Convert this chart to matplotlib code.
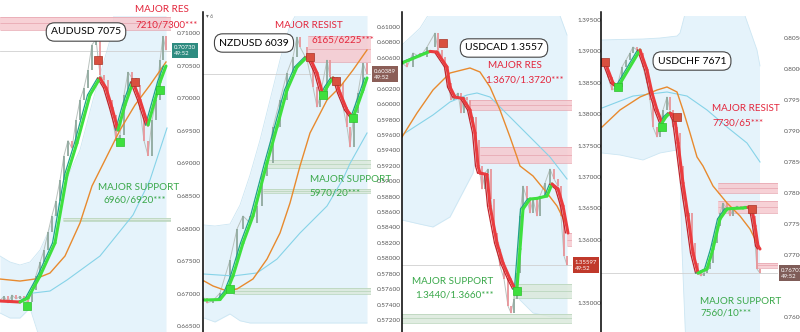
import matplotlib
matplotlib.use('Agg')
import matplotlib.pyplot as plt
from matplotlib.collections import LineCollection
from matplotlib.lines import Line2D
import numpy as np

plt.rcParams['font.family'] = ['Lato', 'DejaVu Sans']

W, H = 800, 332
TOP = 16

# ---------------- AUDUSD ----------------
aud_x = [0, 4, 8, 12, 16, 20, 24, 28, 32, 36, 40, 44, 48, 52, 56, 60, 64, 68, 72, 76, 80,
         84, 88, 92, 96, 100, 104, 108, 112, 116, 120, 124, 128, 132, 136, 140, 144, 148,
         152, 156, 160, 163, 166]
aud_close = [0.6690, 0.6696, 0.6686, 0.6698, 0.6692, 0.6696, 0.6690, 0.6687, 0.6705, 0.6728,
             0.6748, 0.6767, 0.6794, 0.6820, 0.6843, 0.6874, 0.6912, 0.6935, 0.6923, 0.6966,
             0.6997, 0.7016, 0.7043, 0.7082, 0.7090, 0.7036, 0.7028, 0.6997, 0.6974, 0.6935,
             0.6943, 0.7005, 0.7040, 0.7031, 0.7020, 0.6982, 0.6935, 0.6912, 0.6966, 0.6997,
             0.7058, 0.7095, 0.7074]
aud_ma_x = [0, 20, 28, 40, 55, 67, 77, 90, 100, 106, 112, 118, 125, 133, 140, 148, 155, 160, 166]
aud_ma = [0.66889, 0.66873, 0.66935, 0.67272, 0.67779, 0.68822, 0.69313, 0.70049, 0.70310,
          0.70156, 0.69850, 0.69512, 0.69896, 0.70248, 0.69972, 0.69589, 0.69972, 0.70248, 0.70494]
aud_or_x = [0, 20, 35, 50, 65, 80, 92, 105, 120, 135, 150, 166]
aud_orange = [0.67226, 0.67195, 0.67226, 0.67318, 0.67579, 0.68085, 0.68653, 0.69051,
              0.69512, 0.69895, 0.70202, 0.70555]
aud_cy_x = [33, 50, 67, 100, 133, 150, 167]
aud_cyan = [0.67011, 0.67042, 0.67211, 0.67579, 0.68208, 0.68745, 0.69543]
aud_band_x = [0, 10, 20, 30, 40, 50, 60, 70, 80, 93, 100, 110, 115, 166]
aud_band_up = [0.67579, 0.67487, 0.67441, 0.67487, 0.67671, 0.68009, 0.68438, 0.68868,
               0.69205, 0.69972, 0.70356, 0.70893, 0.7135, 0.7135]
aud_band_lo = [0.66705, 0.66628, 0.66628, 0.66780, 0.6630, 0.6630, 0.6630, 0.6630,
               0.6630, 0.6630, 0.6630, 0.6630, 0.6630, 0.6630]
aud_ticks = [0.665, 0.670, 0.675, 0.680, 0.685, 0.690, 0.695, 0.700, 0.705, 0.710]
aud_zones = [(0, 0.7105, 0.7125, 'res'), (63, 0.6811, 0.6816, 'sup')]
aud_green = [(27, 0.66812), (120, 0.69328), (160, 0.70126)]
aud_red = [(98, 0.70586), (135, 0.70248)]
aud_last = 0.70730

# ---------------- NZDUSD ----------------
nzd_x = [4, 7, 13, 20, 30, 37, 43, 50, 57, 62, 67, 73, 80, 87, 93, 97, 100, 107, 113, 117,
         120, 127, 130, 137, 143, 147, 150, 154, 158, 163, 167]
nzd_close = [0.57485, 0.5742, 0.5745, 0.5755, 0.57978, 0.5838, 0.58549, 0.58458, 0.58678,
             0.59068, 0.59236, 0.59703, 0.60053, 0.60403, 0.60611, 0.6087, 0.60741, 0.60572,
             0.60222, 0.59962, 0.60092, 0.60572, 0.60351, 0.60274, 0.59962, 0.59703, 0.59444,
             0.59885, 0.60144, 0.60533, 0.60389]
nzd_ma_x = [4, 20, 27, 33, 43, 53, 67, 77, 87, 97, 107, 110, 117, 123, 127, 133, 136, 140,
            147, 153, 157, 163, 167]
nzd_ma = [0.57459, 0.57465, 0.57576, 0.57771, 0.58198, 0.58549, 0.59236, 0.59703, 0.60183,
          0.60481, 0.60611, 0.60598, 0.60403, 0.60118, 0.60222, 0.60339, 0.60313, 0.60144,
          0.59923, 0.59820, 0.59962, 0.60183, 0.60339]
nzd_or_x = [4, 13, 27, 37, 53, 67, 80, 90, 100, 110, 127, 140, 153, 167]
nzd_orange = [0.57706, 0.57641, 0.57576, 0.57602, 0.57732, 0.5799, 0.58328, 0.58717,
              0.59197, 0.59625, 0.60053, 0.60222, 0.60442, 0.60702]
nzd_cy_x = [4, 33, 57, 77, 100, 127, 143, 150, 167]
nzd_cyan = [0.57796, 0.57771, 0.5781, 0.5799, 0.58328, 0.58678, 0.59029, 0.5923, 0.59625]
nzd_band_x = [4, 15, 30, 40, 50, 60, 70, 80, 90, 100, 167]
nzd_band_up = [0.58432, 0.58419, 0.58445, 0.58691, 0.5908, 0.59534, 0.60053, 0.60572,
               0.61026, 0.6125, 0.6125]
nzd_band_lo = [0.57226, 0.57174, 0.57278, 0.5719, 0.57161, 0.57161, 0.57161, 0.57161,
               0.57161, 0.57161, 0.57161]
nzd_ticks = [0.572, 0.574, 0.576, 0.578, 0.580, 0.582, 0.584, 0.586, 0.588, 0.590, 0.592,
             0.594, 0.596, 0.598, 0.600, 0.602, 0.606, 0.608, 0.610]
nzd_zones = [(108, 0.60546, 0.60883, 'res'), (65, 0.59171, 0.59275, 'sup'),
             (63, 0.58847, 0.58899, 'sup'), (33, 0.57537, 0.57615, 'sup')]
nzd_green = [(30, 0.57602), (123, 0.60118), (153, 0.5982)]
nzd_red = [(110, 0.60611), (136, 0.603)]
nzd_last = 0.60389

# ---------------- USDCAD ----------------
cad_x = [2, 7, 13, 20, 27, 35, 38, 42, 45, 48, 51, 54, 58, 61, 64, 67, 70, 73, 76, 79, 82,
         85, 88, 91, 94, 97, 100, 104, 108, 111, 114, 117, 120, 123, 127, 130, 133, 137, 140,
         145, 150, 154, 158, 161, 164, 167]
cad_close = [1.38815, 1.38752, 1.38975, 1.38911, 1.3907, 1.39293, 1.39022, 1.38911, 1.38704,
             1.38497, 1.38226, 1.38274, 1.38338, 1.38019, 1.38274, 1.38226, 1.37908, 1.37956,
             1.3759, 1.37176, 1.3681, 1.37064, 1.37128, 1.3665, 1.36109, 1.35854, 1.35584,
             1.35377, 1.34947, 1.34836, 1.35058, 1.35472, 1.3638, 1.36857, 1.3665, 1.36428,
             1.3665, 1.3638, 1.36698, 1.36905, 1.37128, 1.36969, 1.36857, 1.3638, 1.35743,
             1.35597]
cad_ma_x = [2, 30, 37, 47, 50, 55, 63, 70, 75, 78, 80, 87, 90, 97, 103, 110, 115, 117, 120,
            123, 130, 137, 147, 152, 158, 163, 168]
cad_ma = [1.38815, 1.3900, 1.3899, 1.38752, 1.38433, 1.38274, 1.3825, 1.38067, 1.37701,
          1.37176, 1.37064, 1.3704, 1.36539, 1.3595, 1.35632, 1.35377, 1.35218, 1.3523,
          1.35854, 1.36491, 1.3665, 1.3666, 1.36698, 1.36889, 1.3681, 1.36539, 1.36109]
cad_or_x = [2, 17, 33, 50, 70, 80, 90, 100, 110, 117, 120, 133, 147, 157, 167]
cad_orange = [1.37637, 1.38019, 1.38386, 1.38656, 1.38736, 1.38672, 1.38433, 1.38067,
              1.37637, 1.37319, 1.37176, 1.37017, 1.36746, 1.36539, 1.36221]
cad_cy_x = [2, 33, 50, 67, 77, 90, 110, 133, 150, 167]
cad_cyan = [1.37669, 1.37988, 1.38195, 1.38306, 1.38338, 1.38274, 1.37956, 1.3759,
            1.37319, 1.36969]
cad_band_x = [2, 20, 33, 50, 73, 77, 90, 105, 120, 133, 157, 167]
cad_band_up = [1.39102, 1.3937, 1.397, 1.397, 1.397, 1.397, 1.397, 1.397, 1.397, 1.397,
               1.397, 1.39261]
cad_band_lo = [1.36316, 1.36250, 1.36205, 1.36364, 1.37064, 1.3743, 1.36475, 1.3560,
               1.35043, 1.34836, 1.34756, 1.3474]
cad_ticks = [1.350, 1.360, 1.365, 1.370, 1.375, 1.380, 1.385, 1.390, 1.395]
cad_zones = [(70, 1.38067, 1.38226, 'res'), (80, 1.37224, 1.37478, 'res'),
             (167, 1.35902, 1.36109, 'res'), (113, 1.35074, 1.35297, 'sup'),
             (0, 1.34676, 1.3482, 'sup')]
cad_green = [(117, 1.35186)]
cad_red = [(43, 1.39134)]
cad_last = 1.35597

# ---------------- USDCHF ----------------
chf_x = [5, 8, 12, 17, 22, 26, 30, 33, 37, 40, 43, 47, 50, 53, 57, 60, 63, 67, 70, 73, 77,
         80, 83, 86, 89, 92, 95, 98, 101, 104, 107, 110, 113, 117, 120, 123, 127, 130, 133,
         137, 141, 145, 149, 152, 155, 157, 160]
chf_close = [0.80097, 0.79871, 0.79661, 0.7971, 0.80032, 0.80145, 0.80258, 0.80355, 0.80306,
             0.80258, 0.80032, 0.79774, 0.795, 0.79064, 0.78903, 0.79064, 0.79339, 0.79548,
             0.79339, 0.79064, 0.78968, 0.78435, 0.77903, 0.77629, 0.77677, 0.77193, 0.76871,
             0.76709, 0.76661, 0.76709, 0.76774, 0.76871, 0.77193, 0.77468, 0.77677, 0.77839,
             0.77742, 0.77629, 0.77742, 0.7779, 0.77742, 0.7779, 0.77742, 0.77629, 0.77193,
             0.76774, 0.76707]
chf_ma_x = [5, 13, 18, 40, 47, 52, 57, 62, 66, 70, 72, 75, 78, 83, 88, 93, 98, 100, 107,
            113, 120, 127, 133, 143, 148, 152, 155, 158, 160]
chf_ma = [0.80113, 0.79774, 0.7971, 0.80306, 0.79984, 0.79613, 0.79339, 0.79129, 0.7923,
          0.7929, 0.7927, 0.79177, 0.78806, 0.78161, 0.77629, 0.77032, 0.76709, 0.7672,
          0.76774, 0.77097, 0.77581, 0.77742, 0.7775, 0.77758, 0.7777, 0.77742, 0.77468,
          0.77145, 0.77097]
chf_or_x = [2, 20, 40, 57, 67, 77, 83, 90, 97, 103, 113, 127, 140, 150, 157]
chf_orange = [0.79064, 0.79339, 0.79548, 0.79661, 0.7971, 0.79629, 0.79339, 0.78968,
              0.78581, 0.78435, 0.78113, 0.77839, 0.77629, 0.77419, 0.77193]
chf_cy_x = [2, 33, 67, 87, 107, 127, 147, 160]
chf_cyan = [0.79371, 0.79564, 0.79629, 0.79564, 0.79339, 0.79064, 0.78806, 0.785]
chf_band_x = [2, 20, 43, 60, 77, 80, 82, 86, 87, 143, 150, 157, 160]
chf_band_up = [0.80468, 0.80476, 0.80484, 0.805, 0.80532, 0.80581, 0.8070, 0.8095, 0.8095,
               0.8095, 0.80629, 0.80306, 0.8005]
chf_band_lo = [0.78645, 0.78613, 0.78532, 0.78645, 0.78694, 0.7830, 0.7708, 0.755, 0.755,
               0.755, 0.755, 0.755, 0.755]
chf_ticks = [0.760, 0.770, 0.775, 0.780, 0.785, 0.790, 0.795, 0.800, 0.805]
chf_zones = [(118, 0.780, 0.78161, 'res'), (118, 0.77677, 0.77871, 'res'),
             (157, 0.7679, 0.76871, 'res')]
chf_green = [(18, 0.7971), (62, 0.79064)]
chf_red = [(5, 0.80113), (77, 0.79226), (152, 0.77742)]
chf_last = 0.76707

panels = [
    dict(left=0, right=171, off=0, ylim=(0.664133, 0.712608), ticks=aud_ticks,
         x=aud_x, close=aud_close, ma_x=aud_ma_x, ma=aud_ma, or_x=aud_or_x, orange=aud_orange,
         cy_x=aud_cy_x, cyan=aud_cyan, band_x=aud_band_x, up=aud_band_up, lo=aud_band_lo,
         zones=aud_zones, green=aud_green, red=aud_red, last=aud_last, lc='#2e8b80'),
    dict(left=203, right=371, off=200, ylim=(0.570441, 0.611427), ticks=nzd_ticks,
         x=nzd_x, close=nzd_close, ma_x=nzd_ma_x, ma=nzd_ma, or_x=nzd_or_x, orange=nzd_orange,
         cy_x=nzd_cy_x, cyan=nzd_cyan, band_x=nzd_band_x, up=nzd_band_up, lo=nzd_band_lo,
         zones=nzd_zones, green=nzd_green, red=nzd_red, last=nzd_last, lc='#8b5e57'),
    dict(left=402, right=572, off=400, ylim=(1.345330, 1.395637), ticks=cad_ticks,
         x=cad_x, close=cad_close, ma_x=cad_ma_x, ma=cad_ma, or_x=cad_or_x, orange=cad_orange,
         cy_x=cad_cy_x, cyan=cad_cyan, band_x=cad_band_x, up=cad_band_up, lo=cad_band_lo,
         zones=cad_zones, green=cad_green, red=cad_red, last=cad_last, lc='#c0392b'),
    dict(left=601, right=778, off=600, ylim=(0.757578, 0.808549), ticks=chf_ticks,
         x=chf_x, close=chf_close, ma_x=chf_ma_x, ma=chf_ma, or_x=chf_or_x, orange=chf_orange,
         cy_x=chf_cy_x, cyan=chf_cyan, band_x=chf_band_x, up=chf_band_up, lo=chf_band_lo,
         zones=chf_zones, green=chf_green, red=chf_red, last=chf_last, lc='#7f5c58'),
]

fig = plt.figure(figsize=(W / 100, H / 100), dpi=100)
fig.patch.set_facecolor('white')


def draw(p):
    l, r, off = p['left'], p['right'], p['off']
    ax = fig.add_axes([l / W, 0, (r - l) / W, (H - TOP) / H])
    ax.set_xlim(l - off, r - off)
    ax.set_ylim(*p['ylim'])
    for s in ax.spines.values():
        s.set_visible(False)
    ax.set_xticks([])
    ax.yaxis.tick_right()
    ax.set_yticks(p['ticks'])
    ax.set_yticklabels([f'{t:.5f}' for t in p['ticks']])
    ax.tick_params(axis='y', length=0, pad=4, labelsize=4.6, labelcolor='#555555')
    xr = r - off

    # bollinger-ish band
    ax.fill_between(p['band_x'], p['lo'], p['up'], color='#e5f3fb', lw=0, zorder=0)
    ax.plot(p['band_x'], p['up'], color='#cce6f3', lw=0.6, zorder=0.5)
    ax.plot(p['band_x'], p['lo'], color='#cce6f3', lw=0.6, zorder=0.5)

    # support / resistance zones
    for x0, lo, hi, kind in p['zones']:
        fc, ec = ('#f6c9cf', '#e6a3ad') if kind == 'res' else ('#dbe9dc', '#b5d2b7')
        ax.fill_between([x0, xr], lo, hi, color=fc, alpha=0.85, lw=0, zorder=1)
        ax.hlines([lo, hi, (lo + hi) / 2], x0, xr, colors=ec, lw=0.5, zorder=1)

    ax.axhline(p['last'], color='#d0d0d0', lw=0.6, zorder=1)

    # candles
    x, c = np.array(p['x']), np.array(p['close'])
    ax.plot(x, c, color='#b9c2be', lw=0.7, zorder=2)
    up = c[1:] >= c[:-1]
    ax.vlines(x[1:], np.minimum(c[1:], c[:-1]), np.maximum(c[1:], c[:-1]),
              colors=np.where(up, '#8fa89d', '#e8959a'), lw=1.3, zorder=2)

    ax.plot(p['cy_x'], p['cyan'], color='#86d3e8', lw=0.8, zorder=3)
    ax.plot(p['or_x'], p['orange'], color='#e88a2e', lw=1.0, zorder=3)

    # fast MA coloured by direction
    mx, my = np.array(p['ma_x'], float), np.array(p['ma'])
    rising = my[1:] > my[:-1]
    segs = [[(mx[i], my[i]), (mx[i + 1], my[i + 1])] for i in range(len(mx) - 1)]
    segs2 = [[(mx[i] - 2.5, my[i]), (mx[i + 1] - 2.5, my[i + 1])] for i in range(len(mx) - 1)]
    ax.add_collection(LineCollection(segs2, colors=np.where(rising, '#1fa38a', '#c0262d'),
                                     lw=0.9, zorder=4, capstyle='round'))
    ax.add_collection(LineCollection(segs, colors=np.where(rising, '#3ee03e', '#ea3b3e'),
                                     lw=2.2, zorder=4, capstyle='round'))

    if p['green']:
        gx, gy = zip(*p['green'])
        ax.scatter(gx, gy, marker='s', s=26, color='#3ee03e', edgecolor='#2cbf2c',
                   lw=0.5, zorder=6)
    if p['red']:
        rx, ry = zip(*p['red'])
        ax.scatter(rx, ry, marker='s', s=26, color='#d9503f', edgecolor='#a83325',
                   lw=0.5, zorder=6)

    ax.text(1 + 3 / (r - l), p['last'], f"{p['last']:.5f}\n49:52", transform=ax.get_yaxis_transform(),
            ha='left', va='center', fontsize=4.3, color='white', linespacing=1.3,
            bbox=dict(boxstyle='square,pad=0.35', fc=p['lc'], ec='none'), zorder=7, clip_on=False)
    return ax


for p in panels:
    draw(p)

# panel separators
for sx in [203, 402, 601]:
    fig.add_artist(Line2D([sx / W, sx / W], [0, 1 - 12 / H], color='black', lw=1.1))


def ftxt(x, y, s, **kw):
    fig.text(x / W, 1 - y / H, s, va='center', **kw)


RED = '#e3263c'
GRN = '#3aa84a'
box = dict(boxstyle='round,pad=0.45,rounding_size=0.8', fc='white', ec='#444444', lw=0.8)
FS = 7.1

ftxt(86, 32, 'AUDUSD 7075', ha='center', fontsize=7.5, color='black', bbox=box)
ftxt(135, 10, 'MAJOR RES', fontsize=FS, color=RED)
ftxt(135, 25, '7210/7300***', fontsize=FS, color=RED)
ftxt(98, 187, 'MAJOR SUPPORT', fontsize=FS, color=GRN)
ftxt(103, 200, '6960/6920***', fontsize=FS, color=GRN)

ftxt(254, 43, 'NZDUSD 6039', ha='center', fontsize=7.5, color='black', bbox=box)
ftxt(275, 25, 'MAJOR RESIST', fontsize=FS, color=RED)
ftxt(312, 40, '6165/6225***', fontsize=FS, color=RED)
ftxt(310, 179, 'MAJOR SUPPORT', fontsize=FS, color=GRN)
ftxt(310, 193, '5970/20***', fontsize=FS, color=GRN)
ftxt(206, 16, '▾ 6', fontsize=4, color='#666666')

ftxt(504, 48, 'USDCAD 1.3557', ha='center', fontsize=7.5, color='black', bbox=box)
ftxt(488, 66, 'MAJOR RES', fontsize=FS, color=RED)
ftxt(485, 80, '1.3670/1.3720***', fontsize=FS, color=RED)
ftxt(412, 282, 'MAJOR SUPPORT', fontsize=FS, color=GRN)
ftxt(415, 295, '1.3440/1.3660***', fontsize=FS, color=GRN)

ftxt(692, 61, 'USDCHF 7671', ha='center', fontsize=7.5, color='black', bbox=box)
ftxt(712, 108, 'MAJOR RESIST', fontsize=FS, color=RED)
ftxt(712, 123, '7730/65***', fontsize=FS, color=RED)
ftxt(700, 301, 'MAJOR SUPPORT', fontsize=FS, color=GRN)
ftxt(700, 313, '7560/10***', fontsize=FS, color=GRN)

fig.savefig('out.png', dpi=100, facecolor='white')
